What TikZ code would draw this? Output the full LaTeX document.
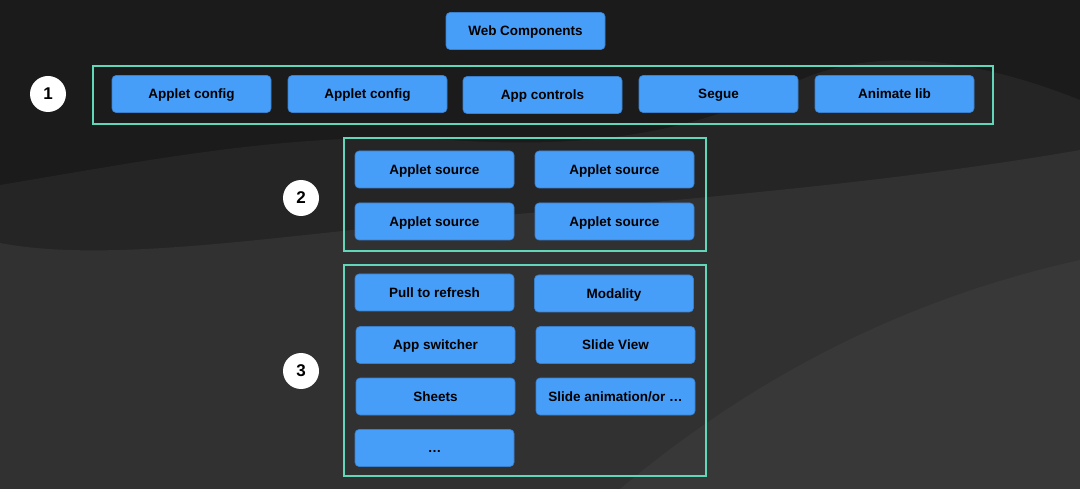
\documentclass[tikz,border=0pt]{standalone}
\usepackage{fontspec}
\setmainfont{Liberation Sans}
\usepackage{tikz}

\definecolor{bgdark}{HTML}{1B1B1B}
\definecolor{bgmid}{HTML}{252525}
\definecolor{bglight}{HTML}{313131}
\definecolor{bglighter}{HTML}{383838}
\definecolor{boxblue}{HTML}{479EF8}
\definecolor{boxedge}{HTML}{3A7FCC}
\definecolor{frameteal}{HTML}{62D6B8}

\begin{document}
\begin{tikzpicture}[x=1pt,y=-1pt,
  comp/.style={rectangle,rounded corners=4pt,fill=boxblue,draw=boxedge,line width=0.6pt,
    minimum width=159pt,minimum height=37pt,inner sep=0pt,text height=9.8pt,text depth=0pt,
    font=\fontsize{13.5}{15}\selectfont\bfseries,text=black},
  frame/.style={rectangle,draw=frameteal,line width=2pt,inner sep=0pt},
  num/.style={circle,fill=white,minimum size=36pt,inner sep=0pt,
    font=\fontsize{17}{19}\selectfont\bfseries,text=black}]

\useasboundingbox (0,0) rectangle (1080,489);

% background dunes
\fill[bgdark] (0,0) rectangle (1080,489);
\fill[bgmid] (0,185) .. controls (150,160) and (300,130) .. (450,140)
  .. controls (600,150) and (700,130) .. (800,80)
  .. controls (880,45) and (980,60) .. (1080,100) -- (1080,489) -- (0,489) -- cycle;
\fill[bglight] (0,243) .. controls (100,262) and (250,240) .. (400,225)
  .. controls (600,205) and (850,190) .. (1080,150) -- (1080,489) -- (0,489) -- cycle;
\fill[bglighter] (620,489) .. controls (750,380) and (900,300) .. (1080,260) -- (1080,489) -- cycle;

% top
\node[comp] (wc) at (525.5,31) {Web Components};

% layer 1
\node[frame,minimum width=900pt,minimum height=58pt] (f1) at (543,95) {};
\node[num] (n1) at (48,94) {1};
\node[comp] (ac1) at (191.5,94) {Applet config};
\node[comp] (ac2) at (367.5,94) {Applet config};
\node[comp] (actl) at (542.5,95) {App controls};
\node[comp] (seg) at (718.5,94) {Segue};
\node[comp] (alib) at (894.5,94) {Animate lib};

% layer 2
\node[frame,minimum width=362pt,minimum height=113pt] (f2) at (525,194.5) {};
\node[num] (n2) at (301,198) {2};
\node[comp] (as1) at (434.5,169.5) {Applet source};
\node[comp] (as2) at (614.5,169.5) {Applet source};
\node[comp] (as3) at (434.5,221.5) {Applet source};
\node[comp] (as4) at (614.5,221.5) {Applet source};

% layer 3
\node[frame,minimum width=362pt,minimum height=211pt] (f3) at (525,370.5) {};
\node[num] (n3) at (301,371) {3};
\node[comp] (ptr) at (434.5,292.5) {Pull to refresh};
\node[comp] (mod) at (614,293.5) {Modality};
\node[comp] (asw) at (435.5,345) {App switcher};
\node[comp] (sv) at (615.5,345) {Slide View};
\node[comp] (sh) at (435.5,396.5) {Sheets};
\node[comp] (sa) at (615.5,396.5) {Slide animation/or \dots};
\node[comp] (more) at (434.5,448) {\dots};

\end{tikzpicture}
\end{document}
